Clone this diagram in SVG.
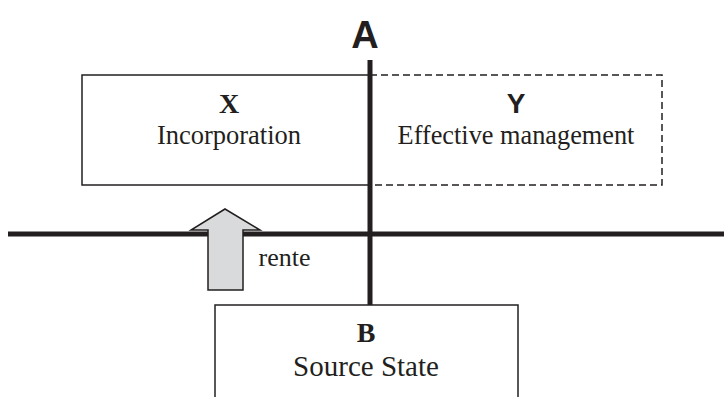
<svg xmlns="http://www.w3.org/2000/svg" width="724" height="397" viewBox="0 0 724 397">
<style>
.box{fill:none;stroke:#231f20;stroke-width:1.5}
.dash{fill:none;stroke:#231f20;stroke-width:1.5;stroke-dasharray:7 4}
.line{stroke:#231f20;stroke-width:5;fill:none}
.serif{font-family:"Liberation Serif",serif;fill:#231f20;text-anchor:middle}
.sans{font-family:"Liberation Sans",sans-serif;fill:#231f20;text-anchor:middle;font-weight:bold}
</style>
<rect width="724" height="397" fill="#fff"/>
<g id="X">
<rect class="box" x="82" y="75" width="288" height="110"/>
<text class="serif" x="229" y="113" font-size="28" font-weight="bold">X</text>
<text class="serif" x="229" y="144" font-size="26.5">Incorporation</text>
</g>
<g id="Y">
<rect class="dash" x="370" y="75" width="292" height="110"/>
<text class="sans" x="516" y="113" font-size="28">Y</text>
<text class="serif" x="516" y="144" font-size="26.3">Effective management</text>
</g>
<g id="B">
<rect class="box" x="215" y="305" width="303" height="100"/>
<text class="serif" x="366" y="342" font-size="28" font-weight="bold">B</text>
<text class="serif" x="366" y="376" font-size="29">Source State</text>
</g>
<g id="connectors">
<line class="line" x1="8" y1="234" x2="724" y2="234"/>
<line class="line" x1="370" y1="60" x2="370" y2="305"/>
<polygon points="225,209 260,230 243,230 243,290 208,290 208,230 191,230" fill="#d9dadb" stroke="#231f20" stroke-width="1.5" stroke-linejoin="miter"/>
</g>
<g id="labels">
<text class="sans" x="365" y="48" font-size="38">A</text>
<text class="serif" x="284.5" y="266" font-size="26">rente</text>
</g>
</svg>
